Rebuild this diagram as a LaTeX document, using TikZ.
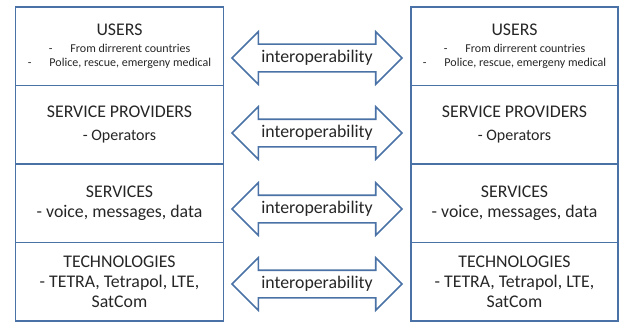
\documentclass[tikz,border=0pt]{standalone}
\usepackage{fontspec}
\setmainfont{Carlito}
\usetikzlibrary{positioning,shapes.arrows}

\definecolor{boxblue}{RGB}{74,114,166}
\definecolor{txtgray}{RGB}{38,38,38}
\newcommand{\bigtxt}{\fontsize{17.8}{20}\selectfont}
\newcommand{\midtxt}{\fontsize{16}{20}\selectfont}
\newcommand{\smalltxt}{\fontsize{12}{13}\selectfont}

\tikzset{
    layer/.style={draw=boxblue, line width=1.6pt, minimum width=208pt, minimum height=78.5pt,
        inner sep=0pt, outer sep=0pt, align=center, text=txtgray, font=\bigtxt},
    iop/.style={draw=boxblue, line width=1.6pt, shape=double arrow, double arrow head extend=12.5pt,
        double arrow head indent=0pt, minimum height=170pt, minimum width=51pt,
        inner xsep=0pt, inner ysep=5pt, text height=12pt, text depth=4pt,
        text=txtgray, font=\bigtxt}
}

\begin{document}
\begin{tikzpicture}[x=1pt, y=1pt]
    \useasboundingbox (0,0) rectangle (620,322);

    \begin{scope}
        \node[layer] (luser) at (119.5, 275.75)
            {USERS\\[-3pt]\smalltxt -\hspace{18pt}From dirrerent countries\\[-6pt]
             \smalltxt -\hspace{18pt}Police, rescue, emergeny medical};
        \node[layer, below=0pt of luser] (lprov)
            {SERVICE PROVIDERS\\[3pt]\midtxt - Operators};
        \node[layer, below=0pt of lprov] (lserv)
            {SERVICES\\- voice, messages, data};
        \node[layer, below=0pt of lserv] (ltech)
            {TECHNOLOGIES\\- TETRA, Tetrapol, LTE,\\SatCom};
    \end{scope}

    \begin{scope}
        \node[layer, minimum width=207pt] (ruser) at (514.5, 275.75)
            {USERS\\[-3pt]\smalltxt -\hspace{18pt}From dirrerent countries\\[-6pt]
             \smalltxt -\hspace{18pt}Police, rescue, emergeny medical};
        \node[layer, minimum width=207pt, below=0pt of ruser] (rprov)
            {SERVICE PROVIDERS\\[3pt]\midtxt - Operators};
        \node[layer, minimum width=207pt, below=0pt of rprov] (rserv)
            {SERVICES\\- voice, messages, data};
        \node[layer, minimum width=207pt, below=0pt of rserv] (rtech)
            {TECHNOLOGIES\\- TETRA, Tetrapol, LTE,\\SatCom};
    \end{scope}

    \node[iop] (iopuser) at (317, 264) {interoperability};
    \node[iop] (iopprov) at (317, 189) {interoperability};
    \node[iop] (iopserv) at (317, 113) {interoperability};
    \node[iop] (ioptech) at (317, 38) {interoperability};
\end{tikzpicture}
\end{document}
